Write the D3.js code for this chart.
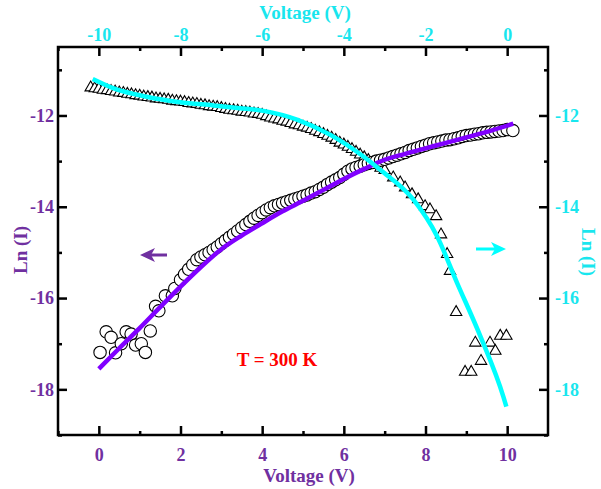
<!DOCTYPE html>
<html lang="en">
<head>
<meta charset="UTF-8">
<title>Ln(I) vs Voltage</title>
<script src="https://d3js.org/d3.v7.min.js"></script>
<style>
  body { margin: 0; background: #fff; }
  text { font-family: "Liberation Serif", "Times New Roman", serif; font-weight: bold; }
</style>
</head>
<body>
<svg width="601" height="489"></svg>
<script>
// forward bias data (open circles, bottom / left axes)
const circleX = [0.03, 0.18, 0.30, 0.41, 0.55, 0.67, 0.79, 0.90, 1.04, 1.14, 1.26, 1.39, 1.47, 1.63, 1.80, 1.86,
  2.0, 2.1, 2.2, 2.3, 2.4, 2.5, 2.6, 2.7, 2.8, 2.9, 3.0, 3.1, 3.2, 3.3, 3.4, 3.5, 3.6, 3.7, 3.8, 3.9,
  4.0, 4.1, 4.2, 4.3, 4.4, 4.5, 4.6, 4.7, 4.8, 4.9, 5.0, 5.1, 5.2, 5.3, 5.4, 5.5, 5.6, 5.7, 5.8, 5.9,
  6.0, 6.1, 6.2, 6.3, 6.4, 6.5, 6.6, 6.7, 6.8, 6.9, 7.0, 7.1, 7.2, 7.3, 7.4, 7.5, 7.6, 7.7, 7.8, 7.9,
  8.0, 8.1, 8.2, 8.3, 8.4, 8.5, 8.6, 8.7, 8.8, 8.9, 9.0, 9.1, 9.2, 9.3, 9.4, 9.5, 9.6, 9.7, 9.8, 9.9,
  10.0, 10.14];
const circleY = [-17.19, -16.74, -16.86, -17.20, -17.00, -16.74, -16.79, -17.03, -17.00, -17.19, -16.72, -16.18, -16.28, -15.95, -15.95, -15.79,
  -15.60, -15.48, -15.37, -15.27, -15.16, -15.10, -15.05, -15.00, -14.94, -14.88, -14.81, -14.74, -14.67, -14.60, -14.53, -14.46, -14.39, -14.32, -14.25, -14.19,
  -14.13, -14.07, -14.02, -13.98, -13.95, -13.92, -13.89, -13.86, -13.83, -13.80, -13.77, -13.74, -13.70, -13.67, -13.62, -13.57, -13.51, -13.46, -13.41, -13.36,
  -13.29, -13.22, -13.17, -13.14, -13.11, -13.08, -13.05, -13.03, -13.00, -12.98, -12.96, -12.93, -12.90, -12.87, -12.84, -12.81, -12.77, -12.74, -12.71, -12.68,
  -12.65, -12.62, -12.60, -12.58, -12.56, -12.54, -12.53, -12.51, -12.49, -12.46, -12.44, -12.43, -12.41, -12.40, -12.38, -12.37, -12.36, -12.35, -12.34, -12.33,
  -12.31, -12.33];

// reverse bias data (open triangles, top / right axes)
const triX = [-10.2, -10.1, -10.0, -9.9, -9.8, -9.7, -9.6, -9.5, -9.4, -9.3, -9.2, -9.1, -9.0, -8.9, -8.8, -8.7, -8.6, -8.5, -8.4, -8.3,
  -8.2, -8.1, -8.0, -7.9, -7.8, -7.7, -7.6, -7.5, -7.4, -7.3, -7.2, -7.1, -7.0, -6.9, -6.8, -6.7, -6.6, -6.5, -6.4, -6.3,
  -6.2, -6.1, -6.0, -5.9, -5.8, -5.7, -5.6, -5.5, -5.4, -5.3, -5.2, -5.1, -5.0, -4.9, -4.8, -4.7, -4.6, -4.5, -4.4, -4.3,
  -4.2, -4.1, -4.0, -3.9, -3.8, -3.7, -3.6, -3.5, -3.4, -3.3, -3.2, -3.1, -3.0,
  -2.79, -2.62, -2.50, -2.33, -2.18, -2.01, -1.89, -1.74, -1.62, -1.47, -1.40, -1.25,
  -1.03, -0.88, -0.64, -0.78, -0.42, -0.29, -0.17, -0.02];
const triY = [-11.39, -11.41, -11.42, -11.44, -11.45, -11.47, -11.48, -11.50, -11.51, -11.53, -11.54, -11.56, -11.57, -11.59, -11.60, -11.61, -11.63, -11.64, -11.65, -11.66,
  -11.68, -11.69, -11.70, -11.71, -11.73, -11.74, -11.75, -11.77, -11.78, -11.80, -11.81, -11.82, -11.84, -11.86, -11.88, -11.89, -11.90, -11.92, -11.93, -11.94,
  -11.96, -11.97, -11.99, -12.02, -12.05, -12.07, -12.09, -12.12, -12.14, -12.17, -12.20, -12.22, -12.25, -12.27, -12.30, -12.34, -12.37, -12.41, -12.45, -12.49,
  -12.54, -12.60, -12.64, -12.69, -12.74, -12.80, -12.86, -12.92, -12.98, -13.04, -13.09, -13.15, -13.20,
  -13.36, -13.47, -13.58, -13.73, -13.84, -13.99, -14.06, -14.21, -14.61, -15.04, -15.41, -16.31,
  -17.62, -17.62, -17.38, -16.98, -16.98, -17.16, -16.83, -16.83];

// fitted curves
const fitFwdX = [0, 0.5, 1, 1.5, 2, 2.5, 3, 3.5, 4, 4.5, 5, 5.5, 6, 6.5, 7, 7.5, 8, 8.5, 9, 9.5, 10.15];
const fitFwdY = [-17.55, -17.10, -16.66, -16.20, -15.75, -15.32, -14.93, -14.63, -14.36, -14.10, -13.87, -13.63, -13.39, -13.17, -12.97, -12.84, -12.72, -12.60, -12.48, -12.36, -12.18];
const fitRevX = [-10.15, -9.65, -8.83, -8.01, -7.20, -6.54, -5.97, -5.15, -4.34, -3.52, -3.11, -2.30, -1.72, -1.23, -0.66, -0.09, -0.02];
const fitRevY = [-11.20, -11.40, -11.59, -11.71, -11.78, -11.84, -11.90, -12.09, -12.42, -12.90, -13.19, -13.84, -14.64, -15.66, -16.83, -18.17, -18.38];

// ticks
const bottomTicks = [0, 2, 4, 6, 8, 10];
const bottomMinor = [-1, 1, 3, 5, 7, 9];
const topTicks = [-10, -8, -6, -4, -2, 0];
const topMinor = [-11, -9, -7, -5, -3, -1];
const yTicks = [-18, -16, -14, -12];
const yMinor = [-19, -17, -15, -13, -11];

const purple = "#7030a0";
const violet = "#8000ff";
const cyan = "#00ffff";
const cyanText = "#19e6ee";

const svg = d3.select("svg");
const L = 58, R = 548, T = 47, B = 435;

const x = d3.scaleLinear().domain([-1, 11]).range([L, R]);
const xTop = d3.scaleLinear().domain([-11, 1]).range([L, R]);
const y = d3.scaleLinear().domain([-19, -10.5]).range([B, T]);

// markers
const triSym = d3.symbol().type(d3.symbolTriangle).size(56);
svg.append("g").selectAll("path")
  .data(triX.map((v, i) => [v, triY[i]]))
  .join("path")
  .attr("d", triSym)
  .attr("transform", d => `translate(${xTop(d[0])},${y(d[1])})`)
  .attr("fill", "#fff")
  .attr("stroke", "#000")
  .attr("stroke-width", 1.1);

svg.append("g").selectAll("circle")
  .data(circleX.map((v, i) => [v, circleY[i]]))
  .join("circle")
  .attr("cx", d => x(d[0]))
  .attr("cy", d => y(d[1]))
  .attr("r", 6.2)
  .attr("fill", "#fff")
  .attr("stroke", "#000")
  .attr("stroke-width", 1.1);

// fit lines
svg.append("path")
  .datum(fitFwdX.map((v, i) => [v, fitFwdY[i]]))
  .attr("fill", "none")
  .attr("stroke", violet)
  .attr("stroke-width", 4.5)
  .attr("d", d3.line().x(d => x(d[0])).y(d => y(d[1])).curve(d3.curveMonotoneX));

svg.append("path")
  .datum(fitRevX.map((v, i) => [v, fitRevY[i]]))
  .attr("fill", "none")
  .attr("stroke", cyan)
  .attr("stroke-width", 4.5)
  .attr("d", d3.line().x(d => xTop(d[0])).y(d => y(d[1])).curve(d3.curveMonotoneX));

// axes
function styleAxis(g, color) {
  g.select(".domain").remove();
  g.selectAll(".tick line").attr("stroke", "#000").attr("stroke-width", 2.5);
  g.selectAll(".tick text").attr("fill", color).attr("font-size", 18)
    .attr("font-family", "Liberation Serif, Times New Roman, serif").attr("font-weight", "bold");
}
const fmt = d => String(d);

svg.append("g").attr("transform", `translate(0,${B})`)
  .call(d3.axisBottom(x).tickValues(bottomTicks).tickFormat(fmt).tickSizeInner(-9).tickSizeOuter(0).tickPadding(13))
  .call(g => styleAxis(g, purple));
svg.append("g").attr("transform", `translate(0,${B})`)
  .call(d3.axisBottom(x).tickValues(bottomMinor).tickFormat("").tickSizeInner(-4).tickSizeOuter(0))
  .call(g => styleAxis(g, purple));

svg.append("g").attr("transform", `translate(0,${T})`)
  .call(d3.axisTop(xTop).tickValues(topTicks).tickFormat(fmt).tickSizeInner(-9).tickSizeOuter(0).tickPadding(6))
  .call(g => styleAxis(g, cyanText));
svg.append("g").attr("transform", `translate(0,${T})`)
  .call(d3.axisTop(xTop).tickValues(topMinor).tickFormat("").tickSizeInner(-4).tickSizeOuter(0))
  .call(g => styleAxis(g, cyanText));

svg.append("g").attr("transform", `translate(${L},0)`)
  .call(d3.axisLeft(y).tickValues(yTicks).tickFormat(fmt).tickSizeInner(-9).tickSizeOuter(0).tickPadding(4))
  .call(g => styleAxis(g, purple));
svg.append("g").attr("transform", `translate(${L},0)`)
  .call(d3.axisLeft(y).tickValues(yMinor).tickFormat("").tickSizeInner(-4).tickSizeOuter(0))
  .call(g => styleAxis(g, purple));

svg.append("g").attr("transform", `translate(${R},0)`)
  .call(d3.axisRight(y).tickValues(yTicks).tickFormat(fmt).tickSizeInner(-9).tickSizeOuter(0).tickPadding(7))
  .call(g => styleAxis(g, cyanText));
svg.append("g").attr("transform", `translate(${R},0)`)
  .call(d3.axisRight(y).tickValues(yMinor).tickFormat("").tickSizeInner(-4).tickSizeOuter(0))
  .call(g => styleAxis(g, cyanText));

// frame
svg.append("rect")
  .attr("x", L).attr("y", T).attr("width", R - L).attr("height", B - T)
  .attr("fill", "none").attr("stroke", "#000").attr("stroke-width", 2.5);

// titles
svg.append("text").attr("x", 309).attr("y", 482).attr("text-anchor", "middle")
  .attr("font-size", 19).attr("fill", purple).text("Voltage (V)");
svg.append("text").attr("x", 305).attr("y", 19).attr("text-anchor", "middle")
  .attr("font-size", 19).attr("fill", cyanText).text("Voltage (V)");
svg.append("text").attr("transform", "translate(27,250) rotate(-90)").attr("text-anchor", "middle")
  .attr("font-size", 19).attr("fill", purple).text("Ln (I)");
svg.append("text").attr("transform", "translate(582,252) rotate(90)").attr("text-anchor", "middle")
  .attr("font-size", 19).attr("fill", cyanText).text("Ln (I)");

svg.append("text").attr("x", 277).attr("y", 366).attr("text-anchor", "middle")
  .attr("font-size", 19).attr("fill", "#ff0000").text("T = 300 K");

// direction arrows
svg.append("line").attr("x1", 167).attr("y1", 255).attr("x2", 148).attr("y2", 255)
  .attr("stroke", purple).attr("stroke-width", 3);
svg.append("path").attr("d", "M140,255 L155,248 L151,255 L155,262 Z").attr("fill", purple);

svg.append("line").attr("x1", 476).attr("y1", 249).attr("x2", 498).attr("y2", 249)
  .attr("stroke", cyan).attr("stroke-width", 3);
svg.append("path").attr("d", "M506,249 L491,242 L495,249 L491,256 Z").attr("fill", cyan);
</script>
</body>
</html>
